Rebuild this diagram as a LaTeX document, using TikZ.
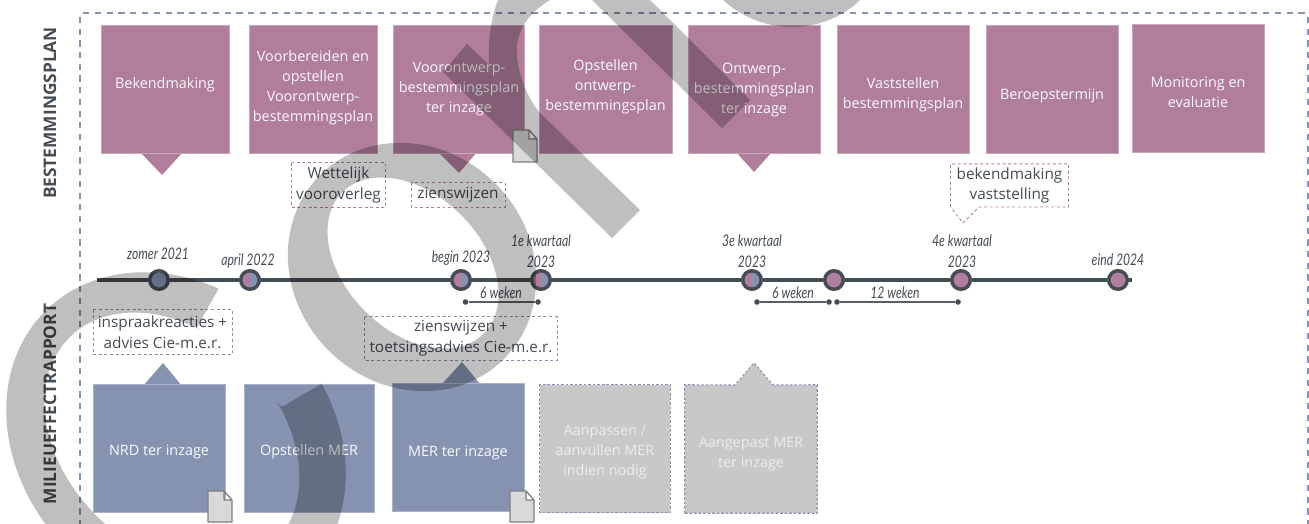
\documentclass[tikz,border=0pt]{standalone}
\usepackage{fontspec}
\usepackage{tikz}
\usepackage{xcolor}
\setmainfont{Open Sans}
\newfontfamily\datefont[FakeStretch=0.76]{Lato}
\definecolor{plancol}{RGB}{176,126,155}
\definecolor{mercol}{RGB}{133,147,177}
\definecolor{offcol}{RGB}{200,200,200}
\definecolor{inkcol}{RGB}{68,76,84}
\definecolor{wmcol}{RGB}{191,191,191}

\begin{document}
\begin{tikzpicture}[x=.75pt,y=-.75pt,
  anybox/.style={minimum width=#1*.75pt,minimum height=96pt,inner sep=0pt,align=center,font=\fontsize{10.8}{15}\selectfont},
  planbox/.style={anybox=#1,fill=plancol,draw=plancol!70!white,line width=.5pt,text=white!95!plancol},
  merbox/.style={anybox=#1,fill=mercol,draw=mercol!70!white,line width=.5pt,text=white!95!mercol},
  offbox/.style={anybox=#1,fill=offcol,text=white!65!offcol},
  baseat/.style={text depth=0pt,text height=#1},
  offline/.style={draw=mercol,line width=.8pt,dash pattern=on 2pt off 1.4pt},
  planpoint/.style={fill=plancol},
  merpoint/.style={fill=mercol},
  notebox/.style={inner sep=0pt,align=center,text=inkcol,font=\fontsize{11.5}{15.7}\selectfont},
  noteline/.style={line width=.6pt,dash pattern=on 2.2pt off 2pt},
  sidelabel/.style={rotate=90,text=inkcol,font=\fontsize{13}{15}\selectfont\bfseries},
  datelabel/.style={text=inkcol,align=center,inner sep=0pt,font=\datefont\fontsize{12}{15.6}\selectfont\itshape},
  stopbase/.style={circle,draw=inkcol,line width=2.6pt,minimum size=13.9pt,inner sep=0pt},
  halfstop/.style={stopbase,fill=mercol,path picture={\fill[plancol] (path picture bounding box.south west) rectangle (path picture bounding box.north);}},
  weekdot/.style={circle,fill=inkcol,minimum size=4.2pt,inner sep=0pt},
  weekline/.style={draw=inkcol!90!white,line width=1.4pt},
  docicon/.style={fill=black!15,draw=black!50,line width=1pt,line join=round},
  framedash/.style={mercol,line width=2.1pt},
  overprint/.style={fill=wmcol,blend mode=multiply}]
 \useasboundingbox (0,0) rectangle (1309,524);
 % frame and side titles
 \foreach \x in {83,94.8,...,1309} \draw[framedash] (\x,13) -- ++(6.2,0);
 \foreach \y in {17,28.7,...,524} \draw[framedash] (80,\y) -- ++(0,6.2);
 \foreach \y in {17,28.7,...,524} \draw[framedash] (1308.5,\y) -- ++(0,6.2);
 \node[sidelabel] (P) at (50,113) {BESTEMMINGSPLAN};
 \node[sidelabel] (R) at (50,404) {MILIEUEFFECTRAPPORT};
 % upper row
 \fill[planpoint] (140,152) -- (162,175) -- (183,152) -- cycle;
 \fill[planpoint] (438,152) -- (459,173) -- (477,152) -- cycle;
 \fill[planpoint] (736,152) -- (754,172) -- (772,152) -- cycle;
 \node[planbox=128,baseat=-4.5pt] (B1) at (165,89) {Bekendmaking};
 \node[planbox=128,baseat=48.75pt] (B2) at (313,89) {Voorbereiden en\\opstellen\\Voorontwerp-\\bestemmingsplan};
 \node[planbox=131,baseat=36pt] (B3) at (459,89) {Voorontwerp-\\bestemmingsplan\\ter inzage};
 \node[planbox=133,baseat=32pt] (B4) at (605.5,89) {Opstellen\\ontwerp-\\bestemmingsplan};
 \node[planbox=132,baseat=37.5pt] (B5) at (754,89) {Ontwerp-\\bestemmingsplan\\ter inzage};
 \node[planbox=132,baseat=29pt] (B6) at (903,89) {Vaststellen\\bestemmingsplan};
 \node[planbox=132,baseat=16pt] (B7) at (1052,89) {Beroepstermijn};
 \node[planbox=132,baseat=29pt] (B8) at (1198,88) {Monitoring en\\evaluatie};
 \draw[docicon] (513,130) -- (529,130) -- (537,139) -- (537,162) -- (513,162) -- cycle (529,130) -- (529,139) -- (537,139);
 % notes above the line
 \node[notebox,minimum width=70pt,minimum height=33pt] (N1) at (338.5,185) {Wettelijk\\vooroverleg};
 \node[notebox,minimum width=70pt,minimum height=18pt] (N2) at (458,195) {zienswijzen};
 \node[notebox,minimum width=88pt,minimum height=32pt] (N3) at (1009.5,185.5) {bekendmaking\\vaststelling};
 \draw[noteline,draw=plancol] (N1.north west) rectangle (N1.south east);
 \draw[noteline,draw=plancol] (N2.north west) rectangle (N2.south east);
 \draw[noteline,draw=plancol] (N3.south west) -- (N3.north west) -- (N3.north east) -- (N3.south east) -- (979,207) -- (963,223) -- (N3.south west);
 % time line
 \node[stopbase,fill=mercol] (D1) at (159,280) {};
 \node[halfstop] (D2) at (250,280) {};
 \node[halfstop] (D3) at (461,280) {};
 \node[halfstop] (D4) at (541,280) {};
 \node[halfstop] (D5) at (752,280) {};
 \node[stopbase,fill=plancol] (D6) at (834,280) {};
 \node[stopbase,fill=plancol] (D7) at (961,280) {};
 \node[stopbase,fill=plancol] (D8) at (1118,280) {};
 \coordinate (T0) at (97,280);
 \coordinate (T9) at (1132,280);
 \draw[draw=inkcol,line width=2.8pt] (T0) -- (D1) -- (D2) -- (D3) -- (D4) -- (D5) -- (D6) -- (D7) -- (D8) -- (T9);
 \node[datelabel] (L1) at (158,254) {zomer 2021};
 \node[datelabel] (L2) at (248,261) {april 2022};
 \node[datelabel] (L3) at (461,258) {begin 2023};
 \node[datelabel] (L4) at (541,251) {1e kwartaal\\2023};
 \node[datelabel] (L5) at (752,251) {3e kwartaal\\2023};
 \node[datelabel] (L6) at (962,251) {4e kwartaal\\2023};
 \node[datelabel] (L7) at (1118,260) {eind 2024};
 % week spans
 \node[weekdot] (W1) at (465.5,302) {};
 \node[weekdot] (W2) at (538,302) {};
 \node[weekdot] (W3) at (757,302) {};
 \node[weekdot] (W4) at (829,302) {};
 \node[weekdot] (W5) at (837,302) {};
 \node[weekdot] (W6) at (958,302) {};
 \draw[weekline] (W1) -- (W2);
 \draw[weekline] (W3) -- (W4);
 \draw[weekline] (W5) -- (W6);
 \node[datelabel] (S1) at (501,292.5) {6 weken};
 \node[datelabel] (S2) at (793,292.5) {6 weken};
 \node[datelabel] (S3) at (895,292.5) {12 weken};
 % notes below the line
 \node[notebox,minimum width=104pt,minimum height=33pt] (N4) at (162.5,332) {inspraakreacties +\\advies Cie-m.e.r.};
 \node[notebox,minimum width=144pt,minimum height=32.5pt] (N5) at (461,338.5) {zienswijzen +\\toetsingsadvies Cie-m.e.r.};
 \draw[noteline,draw=mercol] (N4.north west) rectangle (N4.south east);
 \draw[noteline,draw=mercol] (N5.north west) rectangle (N5.south east);
 % lower row
 \fill[merpoint] (143,386) -- (163,363) -- (182,386) -- cycle;
 \fill[merpoint] (442,384) -- (462,362) -- (480,384) -- cycle;
 \node[merbox=132,baseat=10pt] (M1) at (159,448.5) {NRD ter inzage};
 \node[merbox=130,baseat=10pt] (M2) at (309,448.5) {Opstellen MER};
 \node[merbox=132,baseat=14pt] (M3) at (458,447) {MER ter inzage};
 \fill[fill=offcol] (735,386) -- (754,363) -- (773,386) -- cycle;
 \node[offbox=130,baseat=40pt] (M4) at (605,448.5) {Aanpassen /\\aanvullen MER\\indien nodig};
 \node[offbox=132,baseat=27pt] (M5) at (751,449) {Aangepast MER\\ter inzage};
 \draw[offline] (M4.north west) rectangle (M4.south east);
 \draw[offline] (M5.south west) -- (M5.north west) -- (735,385) -- (754,363) -- (773,385) -- (M5.north east) -- (M5.south east) -- cycle;
 \draw[docicon] (208,491) -- (224,491) -- (232,500) -- (232,522) -- (208,522) -- cycle (224,491) -- (224,500) -- (232,500);
 \draw[docicon] (510,491) -- (526,491) -- (534,500) -- (534,522) -- (510,522) -- cycle (526,491) -- (526,500) -- (534,500);
 % grey overprint
 \begin{scope}[even odd rule]
  \clip (-10,-10) rectangle (1320,540) (236,258) -- (375,352) -- (282,407) -- (197,327) -- cycle;
  \fill[overprint] (176,442) ellipse [x radius=185,y radius=153,rotate=-45] (172,440) ellipse [x radius=145,y radius=107,rotate=-45];
 \end{scope}
 \fill[overprint,even odd rule] (412,267) ellipse [x radius=130,y radius=118,rotate=-45] (413,263) ellipse [x radius=100,y radius=68,rotate=-45];
 \fill[overprint] (443,72) -- (467,44) -- (489,65) .. controls (488,45) and (490,20) .. (498,0) -- (550,0) .. controls (525,15) and (515,35) .. (517,55) .. controls (518,75) and (528,100) .. (541,114) -- (640,210) -- (612,238) -- cycle;
 \fill[overprint] (592,0) -- (650,0) -- (750,100) -- (722,128) -- cycle;
 \fill[overprint] (723,0) .. controls (745,20) and (770,27) .. (793,27) .. controls (820,27) and (845,15) .. (860,0) -- cycle;
\end{tikzpicture}
\end{document}
